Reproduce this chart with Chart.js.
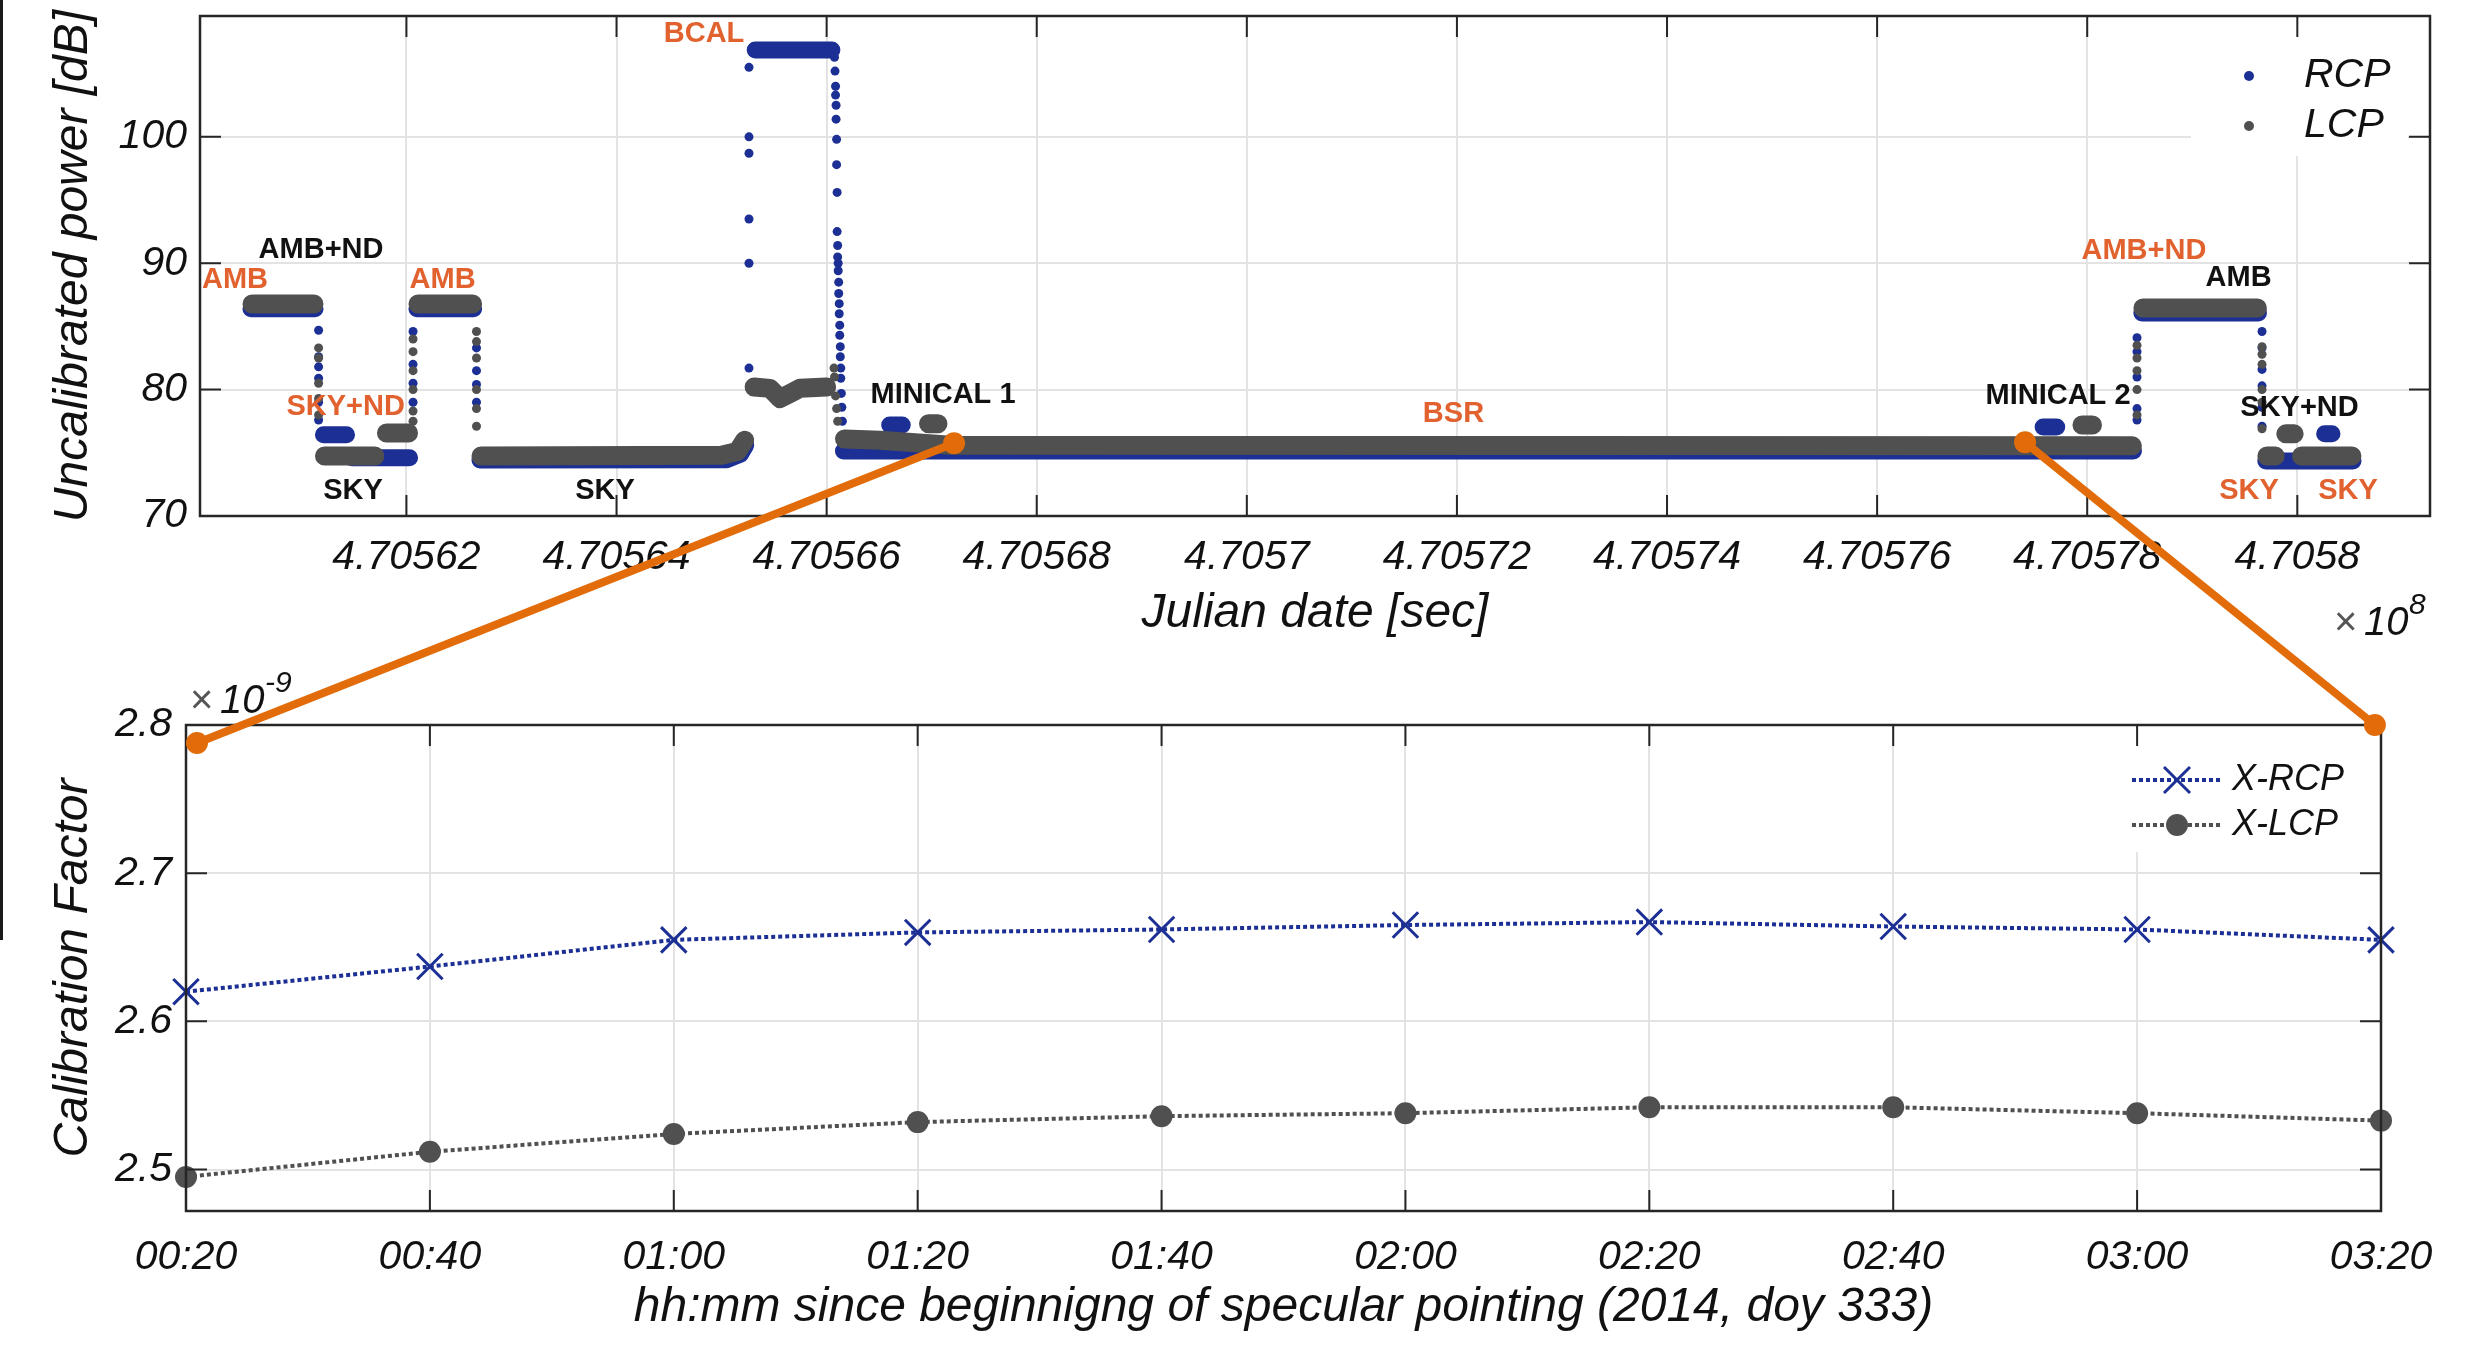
<!DOCTYPE html>
<html>
<head>
<meta charset="utf-8">
<script src="https://cdn.jsdelivr.net/npm/chart.js@4.4.1/dist/chart.umd.min.js"></script>
<style>
  html, body { margin: 0; padding: 0; background: #fff; }
  body { width: 2481px; height: 1349px; position: relative; overflow: hidden; }
  canvas { position: absolute; left: 0; }
  #topChart { top: 0; }
  #bottomChart { top: 640px; }
  #links { top: 0; pointer-events: none; }
  #edge { position: absolute; left: 0; top: 0; width: 3px; height: 940px; background: #1a1a1a; }
</style>
</head>
<body>
<div id="edge"></div>
<canvas id="topChart" width="2481" height="640"></canvas>
<canvas id="bottomChart" width="2481" height="709"></canvas>
<canvas id="links" width="2481" height="1349"></canvas>
<script>
const FONT = "'Liberation Sans', Arial, Helvetica, sans-serif";
Chart.defaults.font.family = FONT;
Chart.defaults.color = '#111';

const BLUE = '#1c2f94';
const GRAY = '#505050';
const ORANGE = '#e2622f';
const LINK = '#e36c0a';
const GRID = '#e3e3e3';
const AXIS = '#262626';

// ---- top panel: Julian date [s] vs uncalibrated power [dB]
const julianTicks = [470562000, 470564000, 470566000, 470568000, 470570000,
                     470572000, 470574000, 470576000, 470578000, 470580000];
const julianLabels = ['4.70562', '4.70564', '4.70566', '4.70568', '4.7057',
                      '4.70572', '4.70574', '4.70576', '4.70578', '4.7058'];
const powerTicks = [70, 80, 90, 100];
const seriesNames = ['RCP', 'LCP'];

// plateaus, [sec, dB], null = gap
const rcpTrace = [
  [470560520, 86.4], [470561130, 86.4], null,
  [470561210, 76.43], [470561430, 76.43], null,
  [470561480, 74.6], [470562030, 74.6], null,
  [470562100, 86.4], [470562640, 86.4], null,
  [470562700, 74.43], [470565050, 74.45], [470565180, 74.9], [470565230, 75.6], null,
  [470565320, 106.87], [470566050, 106.87], null,
  [470566160, 75.15], [470578440, 75.15], null,
  [470566600, 77.2], [470566720, 77.2], null,
  [470577580, 77.04], [470577710, 77.04], null,
  [470578520, 86.06], [470579630, 86.06], null,
  [470579700, 74.35], [470580530, 74.35], null,
  [470580260, 76.5], [470580330, 76.5]
];
const lcpTrace = [
  [470560530, 86.77], [470561120, 86.77], null,
  [470561220, 74.75], [470561700, 74.75], null,
  [470561810, 76.57], [470562020, 76.57], null,
  [470562110, 86.77], [470562630, 86.77], null,
  [470562710, 74.75], [470565000, 74.8], [470565150, 75.1], [470565220, 76.0], null,
  [470565310, 80.2], [470565461, 80.1], [470565556, 79.3], [470565652, 79.7], [470565747, 80.1], [470566000, 80.2], null,
  [470566170, 76.1], [470566508, 76.0], [470567175, 75.6], [470578430, 75.55], null,
  [470566970, 77.3], [470567060, 77.3], null,
  [470577950, 77.2], [470578050, 77.2], null,
  [470578530, 86.46], [470579620, 86.46], null,
  [470579710, 74.75], [470579790, 74.75], null,
  [470579890, 76.5], [470579970, 76.5], null,
  [470580040, 74.75], [470580520, 74.75]
];
// single samples on the switching edges
const rcpSteps = [
  [470561164, 84.7], [470561164, 82.6], [470561164, 81.8], [470561164, 80.9], [470561164, 79.0], [470561164, 77.6],
  [470562063, 84.6], [470562063, 82.0], [470562063, 80.5], [470562063, 79.0],
  [470562667, 83.3], [470562667, 81.5], [470562667, 80.4], [470562667, 79.0],
  [470565261, 81.7], [470565261, 90.0], [470565261, 93.5], [470565261, 98.7], [470565261, 100.0], [470565261, 105.5],
  [470566075, 106.3], [470566080, 105.2], [470566085, 104.0], [470566085, 103.3], [470566090, 102.5], [470566090, 101.4],
  [470566095, 99.8], [470566095, 97.8], [470566100, 95.6], [470566100, 92.5], [470566105, 91.4], [470566105, 90.5],
  [470566110, 90.0], [470566110, 89.4], [470566115, 88.5], [470566115, 87.6], [470566120, 86.8], [470566120, 86.0],
  [470566125, 85.1], [470566125, 84.3], [470566130, 83.4], [470566130, 82.6], [470566135, 81.7], [470566135, 80.9],
  [470566140, 79.7], [470566145, 78.6], [470566150, 77.5],
  [470578474, 84.1], [470578474, 83.0], [470578474, 81.0], [470578474, 78.5], [470578474, 77.6],
  [470579664, 84.6], [470579664, 83.3], [470579664, 81.6], [470579664, 80.3], [470579664, 78.6], [470579664, 77.1]
];
const lcpSteps = [
  [470561164, 83.3], [470561164, 82.5], [470561164, 80.5], [470561164, 79.3], [470561164, 78.0],
  [470562063, 84.0], [470562063, 83.0], [470562063, 81.5], [470562063, 80.0], [470562063, 78.3], [470562063, 77.5],
  [470562667, 84.6], [470562667, 83.8], [470562667, 82.5], [470562667, 80.0], [470562667, 78.5], [470562667, 77.1],
  [470566070, 81.7], [470566075, 81.0], [470566085, 79.5], [470566095, 78.5], [470566105, 77.5],
  [470578474, 83.5], [470578474, 82.5], [470578474, 81.5], [470578474, 80.0], [470578474, 78.0],
  [470579664, 83.4], [470579664, 82.8], [470579664, 82.0], [470579664, 80.0], [470579664, 79.0], [470579664, 76.9]
];

// phase labels, anchored in data units
const phaseNotes = [
  ['AMB', 470560368, 88.67, ORANGE],
  ['AMB+ND', 470561187, 91.04, '#111'],
  ['AMB', 470562344, 88.67, ORANGE],
  ['SKY+ND', 470561422, 78.62, ORANGE],
  ['SKY', 470561492, 71.98, '#111'],
  ['SKY', 470563890, 72.0, '#111'],
  ['BCAL', 470564833, 108.13, ORANGE],
  ['MINICAL 1', 470567108, 79.61, '#111'],
  ['BSR', 470571967, 78.07, ORANGE],
  ['AMB+ND', 470578540, 90.99, ORANGE],
  ['AMB', 470579441, 88.86, '#111'],
  ['MINICAL 2', 470577722, 79.53, '#111'],
  ['SKY+ND', 470580021, 78.57, '#111'],
  ['SKY', 470579540, 72.0, ORANGE],
  ['SKY', 470580482, 72.0, ORANGE]
];

// ---- bottom panel: calibration factor (x1e-9) every 20 min
const elapsedMin = [20, 40, 60, 80, 100, 120, 140, 160, 180, 200];
const timeLabels = ['00:20', '00:40', '01:00', '01:20', '01:40', '02:00', '02:20', '02:40', '03:00', '03:20'];
const factorTicks = [2.5, 2.6, 2.7, 2.8];
const xRcpFactor = [2.620, 2.637, 2.655, 2.660, 2.662, 2.665, 2.667, 2.664, 2.662, 2.655];
const xLcpFactor = [2.495, 2.512, 2.524, 2.532, 2.536, 2.538, 2.542, 2.542, 2.538, 2.533];
const bottomNames = ['X-RCP', 'X-LCP'];

// zoom connectors: top panel [sec, dB] -> bottom panel [min, factor]
const linkTop = [[470567213, 75.75], [470577408, 75.83]];
const linkBottom = [[20.9, 2.7878], [199.5, 2.8]];

function toPoints(trace) {
  let lastX = trace[0][0];
  return trace.map(p => {
    if (p === null) return { x: lastX, y: null };
    lastX = p[0];
    return { x: p[0], y: p[1] };
  });
}

function drawBox(chart, tickLen) {
  const { ctx, chartArea: a, scales } = chart;
  ctx.save();
  ctx.strokeStyle = AXIS;
  ctx.lineWidth = 2;
  ctx.beginPath();
  scales.x.ticks.forEach(t => {
    const px = scales.x.getPixelForValue(t.value);
    ctx.moveTo(px, a.bottom); ctx.lineTo(px, a.bottom - tickLen);
    ctx.moveTo(px, a.top); ctx.lineTo(px, a.top + tickLen);
  });
  scales.y.ticks.forEach(t => {
    const py = scales.y.getPixelForValue(t.value);
    ctx.moveTo(a.left, py); ctx.lineTo(a.left + tickLen, py);
    ctx.moveTo(a.right, py); ctx.lineTo(a.right - tickLen, py);
  });
  ctx.stroke();
  ctx.lineWidth = 2.5;
  ctx.strokeRect(a.left, a.top, a.right - a.left, a.bottom - a.top);
  ctx.restore();
}

function drawExponent(ctx, x, base, power) {
  ctx.save();
  ctx.textBaseline = 'alphabetic';
  ctx.textAlign = 'left';
  ctx.fillStyle = '#555';
  ctx.font = `40px ${FONT}`;
  ctx.fillText('\u00d7', x, base);
  ctx.fillStyle = '#111';
  ctx.font = `italic 40px ${FONT}`;
  ctx.fillText('10', x + 30, base);
  ctx.font = `italic 30px ${FONT}`;
  ctx.fillText(power, x + 75, base - 21);
  ctx.restore();
}

const topDecor = {
  id: 'topDecor',
  afterDatasetsDraw(chart) {
    const { ctx, chartArea: a, scales: { x, y } } = chart;
    ctx.save();
    // phase labels
    ctx.font = `bold 29px ${FONT}`;
    ctx.textAlign = 'center';
    ctx.textBaseline = 'middle';
    phaseNotes.forEach(([txt, sx, sy, col]) => {
      ctx.fillStyle = col;
      ctx.fillText(txt, x.getPixelForValue(sx), y.getPixelForValue(sy));
    });
    // legend
    ctx.fillStyle = '#fff';
    ctx.fillRect(a.right - 239, a.top + 2, 217, 138);
    const cols = [BLUE, GRAY];
    ctx.font = `italic 41px ${FONT}`;
    ctx.textAlign = 'left';
    seriesNames.forEach((name, i) => {
      const ry = a.top + 60 + i * 50;
      ctx.fillStyle = cols[i];
      ctx.beginPath();
      ctx.arc(a.right - 181, ry, 5, 0, Math.PI * 2);
      ctx.fill();
      ctx.fillStyle = '#111';
      ctx.fillText(name, a.right - 126, ry);
    });
    ctx.restore();
    drawBox(chart, 21);
    drawExponent(ctx, a.right - 96, a.bottom + 119, '8');
  }
};

const bottomDecor = {
  id: 'bottomDecor',
  afterDatasetsDraw(chart) {
    const { ctx, chartArea: a } = chart;
    ctx.save();
    ctx.fillStyle = '#fff';
    ctx.fillRect(a.right - 262, a.top + 3, 252, 124);
    const cols = [BLUE, GRAY];
    ctx.font = `italic 36px ${FONT}`;
    ctx.textAlign = 'left';
    ctx.textBaseline = 'middle';
    bottomNames.forEach((name, i) => {
      const ry = a.top + 55 + i * 45;
      ctx.strokeStyle = cols[i];
      ctx.lineWidth = 4;
      ctx.setLineDash([4, 3]);
      ctx.beginPath();
      ctx.moveTo(a.right - 249, ry); ctx.lineTo(a.right - 159, ry);
      ctx.stroke();
      ctx.setLineDash([]);
      const mx = a.right - 204;
      if (i === 0) {
        ctx.lineWidth = 3;
        ctx.beginPath();
        ctx.moveTo(mx - 13, ry - 13); ctx.lineTo(mx + 13, ry + 13);
        ctx.moveTo(mx - 13, ry + 13); ctx.lineTo(mx + 13, ry - 13);
        ctx.stroke();
      } else {
        ctx.fillStyle = cols[i];
        ctx.beginPath();
        ctx.arc(mx, ry, 11, 0, Math.PI * 2);
        ctx.fill();
      }
      ctx.fillStyle = '#111';
      ctx.fillText(name, a.right - 149, ry);
    });
    ctx.restore();
    drawBox(chart, 21);
    drawExponent(ctx, a.left + 4, a.top - 12, '-9');
  }
};

const tickFont = { size: 41, style: 'italic' };
const titleFont = { size: 48, style: 'italic' };

function fixY(width) {
  return s => { s.width = width; s.paddingTop = 0; s.paddingBottom = 0; };
}
function fixX(height) {
  return s => { s.height = height; s.paddingLeft = 0; s.paddingRight = 0; };
}

const topChart = new Chart(document.getElementById('topChart'), {
  type: 'scatter',
  data: {
    datasets: [
      { label: 'LCP', data: lcpSteps.map(p => ({ x: p[0], y: p[1] })), order: 0,
        pointRadius: 4.5, pointBackgroundColor: GRAY, pointBorderWidth: 0 },
      { label: 'LCP', data: toPoints(lcpTrace), order: 1, showLine: true, spanGaps: false,
        borderColor: GRAY, borderWidth: 19, pointRadius: 0, borderCapStyle: 'round', borderJoinStyle: 'round' },
      { label: 'RCP', data: rcpSteps.map(p => ({ x: p[0], y: p[1] })), order: 2,
        pointRadius: 4.5, pointBackgroundColor: BLUE, pointBorderWidth: 0 },
      { label: 'RCP', data: toPoints(rcpTrace), order: 3, showLine: true, spanGaps: false,
        borderColor: BLUE, borderWidth: 17, pointRadius: 0, borderCapStyle: 'round', borderJoinStyle: 'round' }
    ]
  },
  options: {
    responsive: false,
    animation: false,
    events: [],
    layout: { padding: { top: 16, right: 51, left: 0, bottom: 0 } },
    plugins: { legend: { display: false }, tooltip: { enabled: false } },
    scales: {
      x: {
        type: 'linear', min: 470560035, max: 470581263,
        afterBuildTicks: s => { s.ticks = julianTicks.map(v => ({ value: v })); },
        afterFit: fixX(124),
        ticks: { font: tickFont, color: '#111', padding: 17, autoSkip: false, maxRotation: 0,
                 callback: (v, i) => julianLabels[i] },
        grid: { color: GRID, lineWidth: 2, drawTicks: false },
        border: { display: false },
        title: { display: true, text: 'Julian date [sec]', font: titleFont, color: '#111', padding: { top: 0, bottom: -2 } }
      },
      y: {
        type: 'linear', min: 70, max: 109.56,
        afterBuildTicks: s => { s.ticks = powerTicks.map(v => ({ value: v })); },
        afterFit: fixY(200),
        ticks: { font: tickFont, color: '#111', padding: 13, callback: v => String(v) },
        grid: { color: GRID, lineWidth: 2, drawTicks: false },
        border: { display: false },
        title: { display: true, text: 'Uncalibrated power [dB]', font: titleFont, color: '#111', padding: { top: 45, bottom: 0 } }
      }
    }
  },
  plugins: [topDecor]
});

const bottomChart = new Chart(document.getElementById('bottomChart'), {
  type: 'scatter',
  data: {
    datasets: [
      { label: bottomNames[0], data: elapsedMin.map((m, i) => ({ x: m, y: xRcpFactor[i] })),
        showLine: true, clip: false, borderColor: BLUE, borderWidth: 4, borderDash: [4, 3],
        pointStyle: 'crossRot', pointRadius: 18, pointBorderWidth: 3, pointBorderColor: BLUE,
        pointBackgroundColor: 'transparent' },
      { label: bottomNames[1], data: elapsedMin.map((m, i) => ({ x: m, y: xLcpFactor[i] })),
        showLine: true, clip: false, borderColor: GRAY, borderWidth: 4, borderDash: [4, 3],
        pointStyle: 'circle', pointRadius: 11, pointBorderWidth: 0, pointBackgroundColor: GRAY }
    ]
  },
  options: {
    responsive: false,
    animation: false,
    events: [],
    layout: { padding: { top: 85, right: 100, left: 0, bottom: 0 } },
    plugins: { legend: { display: false }, tooltip: { enabled: false } },
    scales: {
      x: {
        type: 'linear', min: 20, max: 200,
        afterBuildTicks: s => { s.ticks = elapsedMin.map(v => ({ value: v })); },
        afterFit: fixX(138),
        ticks: { font: tickFont, color: '#111', padding: 22, autoSkip: false, maxRotation: 0,
                 callback: (v, i) => timeLabels[i] },
        grid: { color: GRID, lineWidth: 2, drawTicks: false },
        border: { display: false },
        title: { display: true, text: 'hh:mm since beginnigng of specular pointing (2014, doy 333)',
                 font: titleFont, color: '#111', padding: { top: 0, bottom: 13 } }
      },
      y: {
        type: 'linear', min: 2.472, max: 2.8,
        afterBuildTicks: s => { s.ticks = factorTicks.map(v => ({ value: v })); },
        afterFit: fixY(186),
        ticks: { font: tickFont, color: '#111', padding: 14, callback: v => v.toFixed(1) },
        grid: { color: GRID, lineWidth: 2, drawTicks: false },
        border: { display: false },
        title: { display: true, text: 'Calibration Factor', font: titleFont, color: '#111', padding: { top: 45, bottom: 0 } }
      }
    }
  },
  plugins: [bottomDecor]
});

// orange zoom connectors across both panels
function drawLinks() {
  const ctx = document.getElementById('links').getContext('2d');
  const botOff = 640;
  ctx.strokeStyle = LINK;
  ctx.fillStyle = LINK;
  ctx.lineWidth = 8;
  ctx.lineCap = 'round';
  for (let i = 0; i < linkTop.length; i++) {
    const x1 = topChart.scales.x.getPixelForValue(linkTop[i][0]);
    const y1 = topChart.scales.y.getPixelForValue(linkTop[i][1]);
    const x2 = bottomChart.scales.x.getPixelForValue(linkBottom[i][0]);
    const y2 = bottomChart.scales.y.getPixelForValue(linkBottom[i][1]) + botOff;
    ctx.beginPath();
    ctx.moveTo(x1, y1);
    ctx.lineTo(x2, y2);
    ctx.stroke();
    [[x1, y1], [x2, y2]].forEach(([px, py]) => {
      ctx.beginPath();
      ctx.arc(px, py, 11, 0, Math.PI * 2);
      ctx.fill();
    });
  }
}
drawLinks();
</script>
</body>
</html>
